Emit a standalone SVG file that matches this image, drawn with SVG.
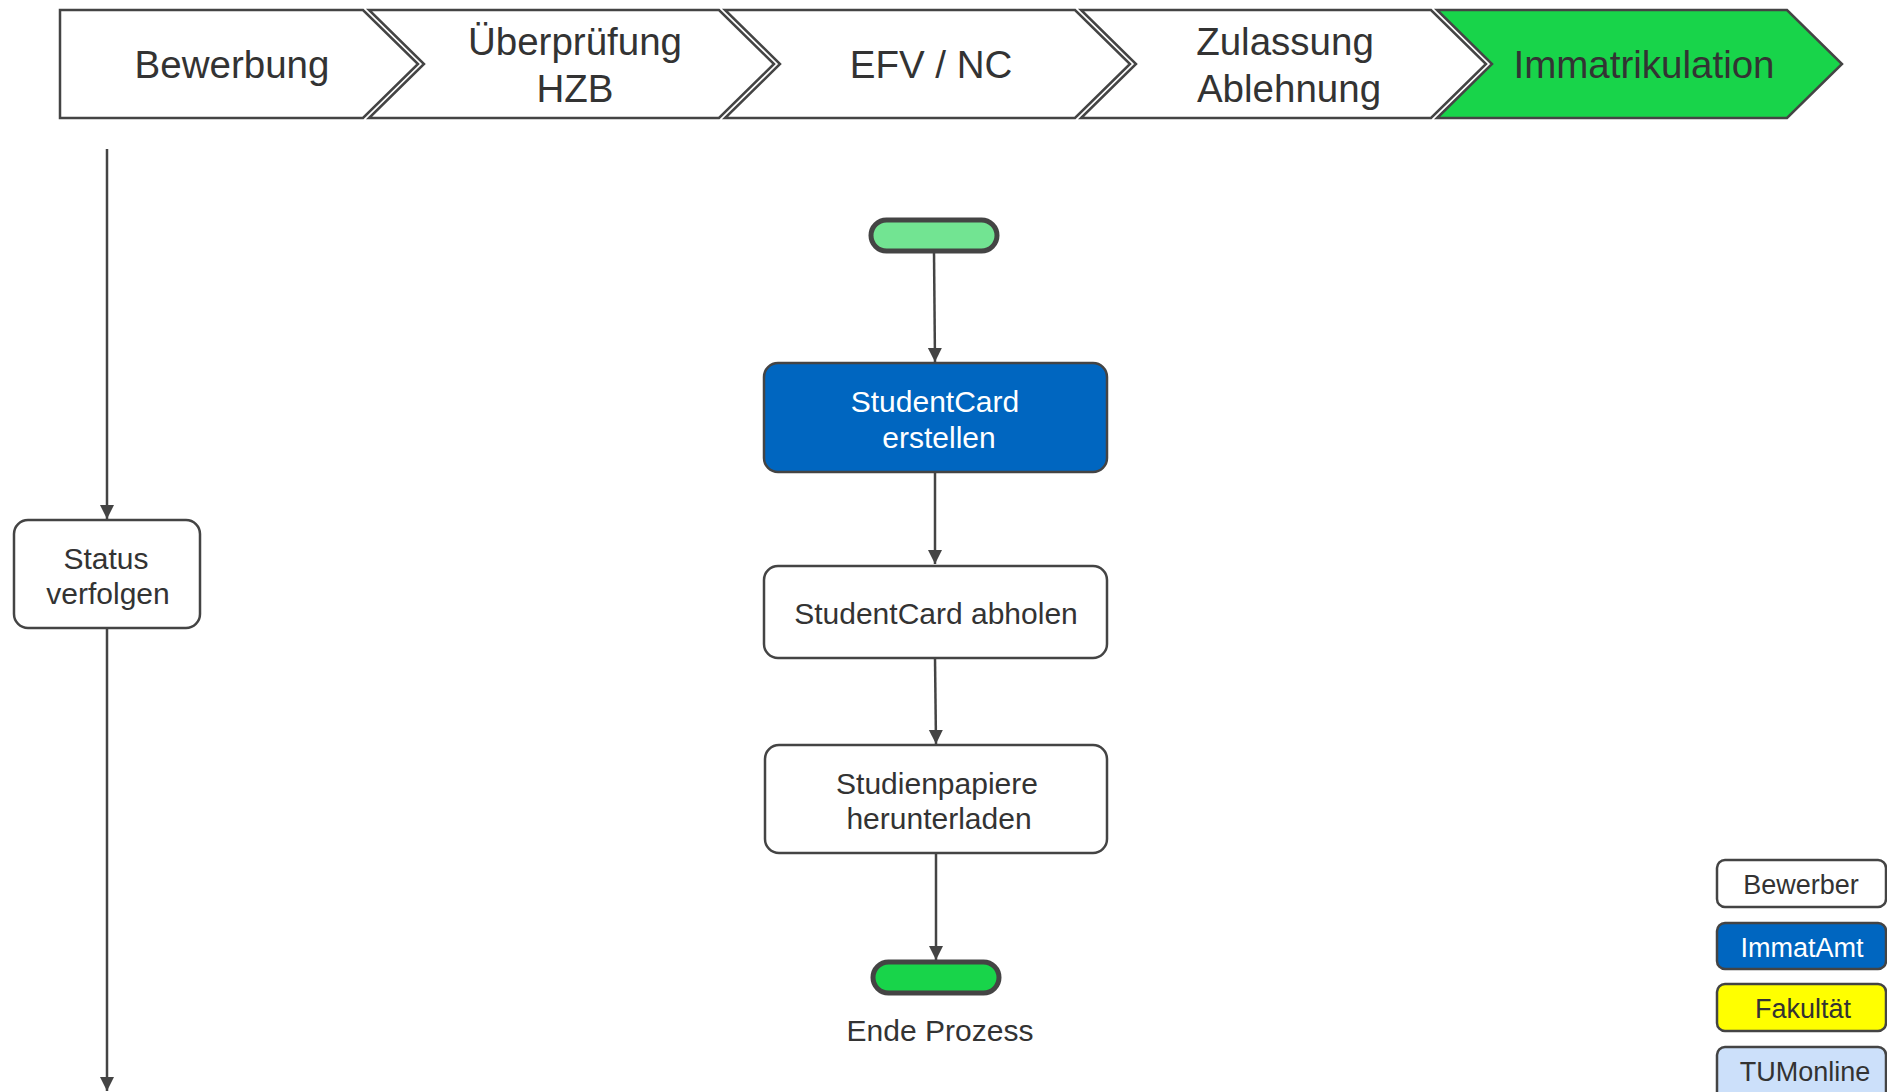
<svg xmlns="http://www.w3.org/2000/svg" width="1887" height="1092" viewBox="0 0 1887 1092">
  <style>
    text { font-family: "Liberation Sans", Arial, sans-serif; fill: #333333; text-anchor: middle; }
    .phase { fill: #ffffff; stroke: #444444; stroke-width: 2.5; stroke-linejoin: miter; }
    .phase-active { fill: #18d44a; }
    .phase-label { font-size: 38.5px; }
    .task { fill: #ffffff; stroke: #444444; stroke-width: 2.5; }
    .task-label { font-size: 30px; }
    .pill { stroke: #444444; stroke-width: 5; }
    .edge { fill: none; stroke: #444444; stroke-width: 2.5; marker-end: url(#arrow); }
    .legend-box { stroke: #444444; stroke-width: 2.5; }
    .legend-label { font-size: 27px; }
  </style>
  <defs>
    <marker id="arrow" viewBox="0 0 10 10" refX="10" refY="5" markerWidth="14" markerHeight="15" markerUnits="userSpaceOnUse" orient="auto">
      <path d="M0,0 L10,5 L0,10 Z" fill="#444444"/>
    </marker>
  </defs>

  <rect width="1887" height="1092" fill="#ffffff"/>

  <!-- Phase bar -->
  <g id="phase-bewerbung">
    <path class="phase" d="M60,10 H363 L418,64 L363,118 H60 Z"/>
    <text class="phase-label" x="232" y="78">Bewerbung</text>
  </g>
  <g id="phase-hzb">
    <path class="phase" d="M369,10 H719 L774,64 L719,118 H369 L424,64 Z"/>
    <text class="phase-label" x="575" y="55">Überprüfung</text>
    <text class="phase-label" x="575" y="102">HZB</text>
  </g>
  <g id="phase-efv">
    <path class="phase" d="M725,10 H1075 L1130,64 L1075,118 H725 L780,64 Z"/>
    <text class="phase-label" x="931" y="78">EFV / NC</text>
  </g>
  <g id="phase-zulassung">
    <path class="phase" d="M1081,10 H1431 L1486,64 L1431,118 H1081 L1136,64 Z"/>
    <text class="phase-label" x="1285" y="55">Zulassung</text>
    <text class="phase-label" x="1289" y="102">Ablehnung</text>
  </g>
  <g id="phase-immatrikulation">
    <path class="phase phase-active" d="M1437,10 H1787 L1842,64 L1787,118 H1437 L1492,64 Z"/>
    <text class="phase-label" x="1644" y="78">Immatrikulation</text>
  </g>

  <!-- Connectors -->
  <g id="connectors">
    <path class="edge" d="M107,149 V519"/>
    <path class="edge" d="M107,628 V1091"/>
    <path class="edge" d="M934,252 L935,362"/>
    <path class="edge" d="M935,472 V564"/>
    <path class="edge" d="M935,658 L936,744"/>
    <path class="edge" d="M936,853 V960"/>
  </g>

  <!-- Nodes -->
  <g id="status-verfolgen">
    <rect class="task" x="14" y="520" width="186" height="108" rx="14"/>
    <text class="task-label" x="106" y="569">Status</text>
    <text class="task-label" x="108" y="604">verfolgen</text>
  </g>

  <g id="start">
    <rect class="pill" x="871" y="220" width="126" height="31" rx="15.5" fill="#72e492"/>
  </g>

  <g id="studentcard-erstellen">
    <rect class="task" x="764" y="363" width="343" height="109" rx="14" fill="#0066c0" style="fill:#0066c0"/>
    <text class="task-label" x="935" y="412" style="fill:#ffffff">StudentCard</text>
    <text class="task-label" x="939" y="448" style="fill:#ffffff">erstellen</text>
  </g>

  <g id="studentcard-abholen">
    <rect class="task" x="764" y="566" width="343" height="92" rx="14"/>
    <text class="task-label" x="936" y="624">StudentCard abholen</text>
  </g>

  <g id="studienpapiere">
    <rect class="task" x="765" y="745" width="342" height="108" rx="14"/>
    <text class="task-label" x="937" y="794">Studienpapiere</text>
    <text class="task-label" x="939" y="829">herunterladen</text>
  </g>

  <g id="ende">
    <rect class="pill" x="873" y="962" width="126" height="31" rx="15.5" fill="#18d44a"/>
    <text class="task-label" x="940" y="1041">Ende Prozess</text>
  </g>

  <!-- Legend -->
  <g id="legend-bewerber">
    <rect class="legend-box" x="1717" y="860" width="169" height="47" rx="8" fill="#ffffff"/>
    <text class="legend-label" x="1801" y="894">Bewerber</text>
  </g>
  <g id="legend-immatamt">
    <rect class="legend-box" x="1717" y="923" width="169" height="46" rx="8" fill="#0066c0"/>
    <text class="legend-label" x="1802" y="957" style="fill:#ffffff">ImmatAmt</text>
  </g>
  <g id="legend-fakultaet">
    <rect class="legend-box" x="1717" y="984" width="169" height="47" rx="8" fill="#ffff00"/>
    <text class="legend-label" x="1803" y="1018">Fakultät</text>
  </g>
  <g id="legend-tumonline">
    <rect class="legend-box" x="1717" y="1047" width="169" height="60" rx="8" fill="#cce0fa"/>
    <text class="legend-label" x="1805" y="1081">TUMonline</text>
  </g>
</svg>
